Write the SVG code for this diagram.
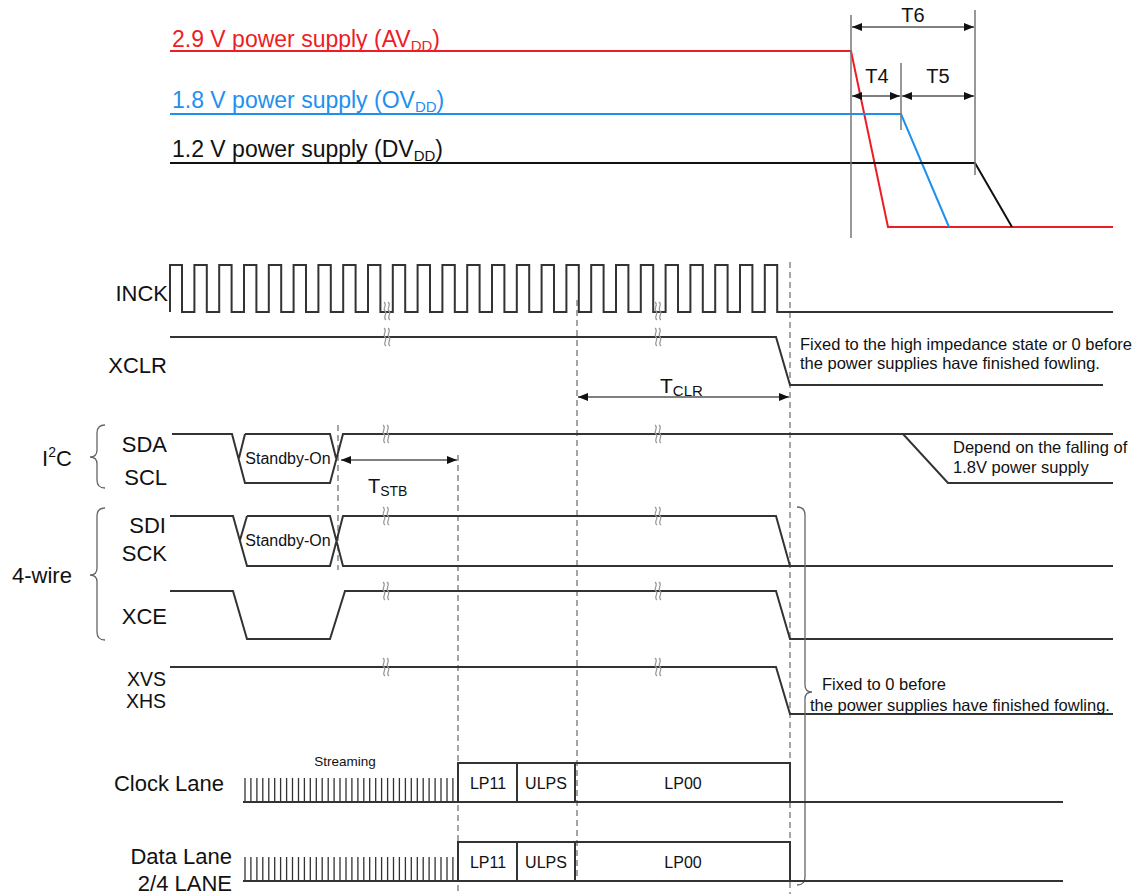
<svg xmlns="http://www.w3.org/2000/svg" xmlns:xlink="http://www.w3.org/1999/xlink" width="1138" height="894" viewBox="0 0 1138 894">
<style>
text{font-family:"Liberation Sans",Arial,sans-serif;fill:#111}
.lbl{font-size:22px}
.lblE{font-size:22px;text-anchor:end}
.pwr{font-size:23px}
.note{font-size:16.5px}
.box{font-size:16px;text-anchor:middle}
.w{fill:none;stroke:#333;stroke-width:2}
.vg{fill:none;stroke:#777;stroke-width:1.5}
.dash{fill:none;stroke:#888;stroke-width:1.5;stroke-dasharray:6 4}
.arr{fill:none;stroke:#555;stroke-width:1.5;marker-start:url(#ah);marker-end:url(#ah)}
.brk{fill:none;stroke:#999;stroke-width:1.2}
.brace{fill:none;stroke:#666;stroke-width:1.3}
</style>
<defs>
<marker id="ah" viewBox="0 0 10 8" refX="10" refY="4" markerWidth="10" markerHeight="8" markerUnits="userSpaceOnUse" orient="auto-start-reverse"><path d="M0,0L10,4L0,8z" fill="#111"/></marker>
<g id="brkmark"><path class="brk" d="M-3,-9C1,-6 -5,-3 -2,0C1,3 -5,6 -1,9M1,-9C5,-6 -1,-3 2,0C5,3 -1,6 3,9"/></g>
<path id="ticks" d="M245,0v24M250.9,0v24M256.9,0v24M262.8,0v24M268.8,0v24M274.7,0v24M280.6,0v24M286.6,0v24M292.5,0v24M298.5,0v24M304.4,0v24M310.3,0v24M316.3,0v24M322.2,0v24M328.2,0v24M334.1,0v24M340,0v24M346,0v24M351.9,0v24M357.9,0v24M363.8,0v24M369.7,0v24M375.7,0v24M381.6,0v24M387.6,0v24M393.5,0v24M399.4,0v24M405.4,0v24M411.3,0v24M417.3,0v24M423.2,0v24M429.1,0v24M435.1,0v24M441,0v24M447,0v24M452.9,0v24" fill="none" stroke="#333" stroke-width="1.3"/>
</defs>
<rect width="1138" height="894" fill="#fff"/>

<g id="power">
<g id="avdd">
<path d="M170,51H851L888,227H1113" fill="none" stroke="#ee1c25" stroke-width="2"/>
<text class="pwr" x="172" y="47" style="fill:#ee1c25">2.9 V power supply (AV<tspan font-size="15" dy="4">DD</tspan><tspan dy="-4">)</tspan></text>
</g>
<g id="ovdd">
<path d="M170,114H901L949,227" fill="none" stroke="#1e90ee" stroke-width="2"/>
<text class="pwr" x="172" y="108" style="fill:#1e90ee">1.8 V power supply (OV<tspan font-size="15" dy="4">DD</tspan><tspan dy="-4">)</tspan></text>
</g>
<g id="dvdd">
<path d="M170,163H975L1012,227" fill="none" stroke="#111" stroke-width="2"/>
<text class="pwr" x="172" y="157">1.2 V power supply (DV<tspan font-size="15" dy="4">DD</tspan><tspan dy="-4">)</tspan></text>
</g>
<g id="ptiming">
<path class="vg" d="M851,15V238M901,63V130M975,10V175"/>
<line class="arr" x1="852" y1="27" x2="974" y2="27"/>
<line class="arr" x1="852" y1="96" x2="900" y2="96"/>
<line class="arr" x1="902" y1="96" x2="974" y2="96"/>
<text x="913" y="22" style="font-size:20px;text-anchor:middle">T6</text>
<text x="877" y="83" style="font-size:20px;text-anchor:middle">T4</text>
<text x="938" y="83" style="font-size:20px;text-anchor:middle">T5</text>
</g>
</g>

<g id="guides">
<path class="dash" d="M577,300V881M790,262V894M458,455V894M338,425V570"/>
<line class="arr" x1="578" y1="397" x2="789" y2="397"/>
<text x="660" y="393" style="font-size:21px">T<tspan font-size="15" dy="3">CLR</tspan></text>
<line class="arr" x1="341" y1="460" x2="457" y2="460"/>
<text x="368" y="493" style="font-size:20px">T<tspan font-size="14" dy="3">STB</tspan></text>
</g>

<g id="inck">
<text class="lblE" x="168" y="301">INCK</text>
<path class="w" d="M170,312V265H182V312H194.4V265H206.8V312H219.2V265H231.6V312H244V265H256.4V312H268.8V265H281.2V312H293.6V265H306V312H318.4V265H330.8V312H343.2V265H355.6V312H368V265H380.4V312H392.8V265H405.2V312H417.6V265H430V312H442.4V265H454.8V312H467.2V265H479.6V312H492V265H504.4V312H516.8V265H529.2V312H541.6V265H554V312H566.4V265H578.8V312H591.2V265H603.6V312H616V265H628.4V312H640.8V265H653.2V312H665.6V265H678V312H690.4V265H702.8V312H715.2V265H727.6V312H740V265H752.4V312H764.8V265H777.2V312H1113"/>
<use xlink:href="#brkmark" x="387" y="311"/>
<use xlink:href="#brkmark" x="658" y="311"/>
</g>

<g id="xclr">
<text class="lblE" x="167" y="373">XCLR</text>
<path class="w" d="M170,337H776L790,385H1103"/>
<use xlink:href="#brkmark" x="387" y="337"/>
<use xlink:href="#brkmark" x="658" y="337"/>
<text class="note" x="800" y="350">Fixed to the high impedance state or 0 before</text>
<text class="note" x="800" y="369">the power supplies have finished fowling.</text>
</g>

<g id="i2c">
<text class="lbl" x="42" y="466">I<tspan font-size="14" dy="-9">2</tspan><tspan dy="9">C</tspan></text>
<path class="brace" d="M105,425Q97,425 97,433V450Q97,457 90,457Q97,457 97,464V480Q97,488 105,488"/>
<text class="lblE" x="167" y="452">SDA</text>
<text class="lblE" x="167" y="485">SCL</text>
<path class="w" d="M172,434H232L245,483H330L343,434H903L948,483H1113M245,434L239,458M245,434H330L336,458M903,434H1113"/>
<text class="box" x="288" y="464">Standby-On</text>
<use xlink:href="#brkmark" x="386" y="434"/>
<use xlink:href="#brkmark" x="658" y="434"/>
<text class="note" x="953" y="453">Depend on the falling of</text>
<text class="note" x="953" y="473">1.8V power supply</text>
</g>

<g id="fourwire">
<text class="lbl" x="12" y="583">4-wire</text>
<path class="brace" d="M105,508Q97,508 97,516V568Q97,575 90,575Q97,575 97,582V632Q97,640 105,640"/>
<g id="sdi">
<text class="lblE" x="166" y="533">SDI</text>
<text class="lblE" x="167" y="561">SCK</text>
<path class="w" d="M170,516H233L247,566H330L343,516H776L790,566M247,516L240,540M247,516H330L343,566H1113"/>
<text class="box" x="288" y="546">Standby-On</text>
<use xlink:href="#brkmark" x="386" y="516"/>
<use xlink:href="#brkmark" x="658" y="516"/>
</g>
<g id="xce">
<text class="lblE" x="167" y="624">XCE</text>
<path class="w" d="M170,591H233L247,639H330L345,591H776L790,639H1113"/>
<use xlink:href="#brkmark" x="386" y="591"/>
<use xlink:href="#brkmark" x="658" y="591"/>
</g>
</g>

<g id="xvs">
<text class="lblE" x="166" y="686" style="font-size:19.5px">XVS</text>
<text class="lblE" x="166" y="708" style="font-size:19.5px">XHS</text>
<path class="w" d="M170,667H776L790,714H1113"/>
<use xlink:href="#brkmark" x="386" y="667"/>
<use xlink:href="#brkmark" x="658" y="667"/>
<path class="brace" d="M797,507Q805,507 805,515V685Q805,692 812,692Q805,692 805,699V877Q805,885 797,885"/>
<text class="note" x="822" y="690">Fixed to 0 before</text>
<text class="note" x="810" y="711">the power supplies have finished fowling.</text>
</g>

<g id="clocklane">
<text class="lblE" x="224" y="791">Clock Lane</text>
<text x="345" y="766" style="font-size:13.5px;text-anchor:middle">Streaming</text>
<use xlink:href="#ticks" y="778"/>
<path class="w" d="M243,802H1063M458,802V763H790V802M517,763V802M575,763V802"/>
<text class="box" x="488" y="789">LP11</text>
<text class="box" x="546" y="789">ULPS</text>
<text class="box" x="683" y="789">LP00</text>
</g>

<g id="datalane">
<text class="lblE" x="232" y="864">Data Lane</text>
<text class="lblE" x="232" y="891">2/4 LANE</text>
<use xlink:href="#ticks" y="857"/>
<path class="w" d="M243,881H1063M458,881V842H790V881M517,842V881M575,842V881"/>
<text class="box" x="488" y="868">LP11</text>
<text class="box" x="546" y="868">ULPS</text>
<text class="box" x="683" y="868">LP00</text>
</g>
</svg>
